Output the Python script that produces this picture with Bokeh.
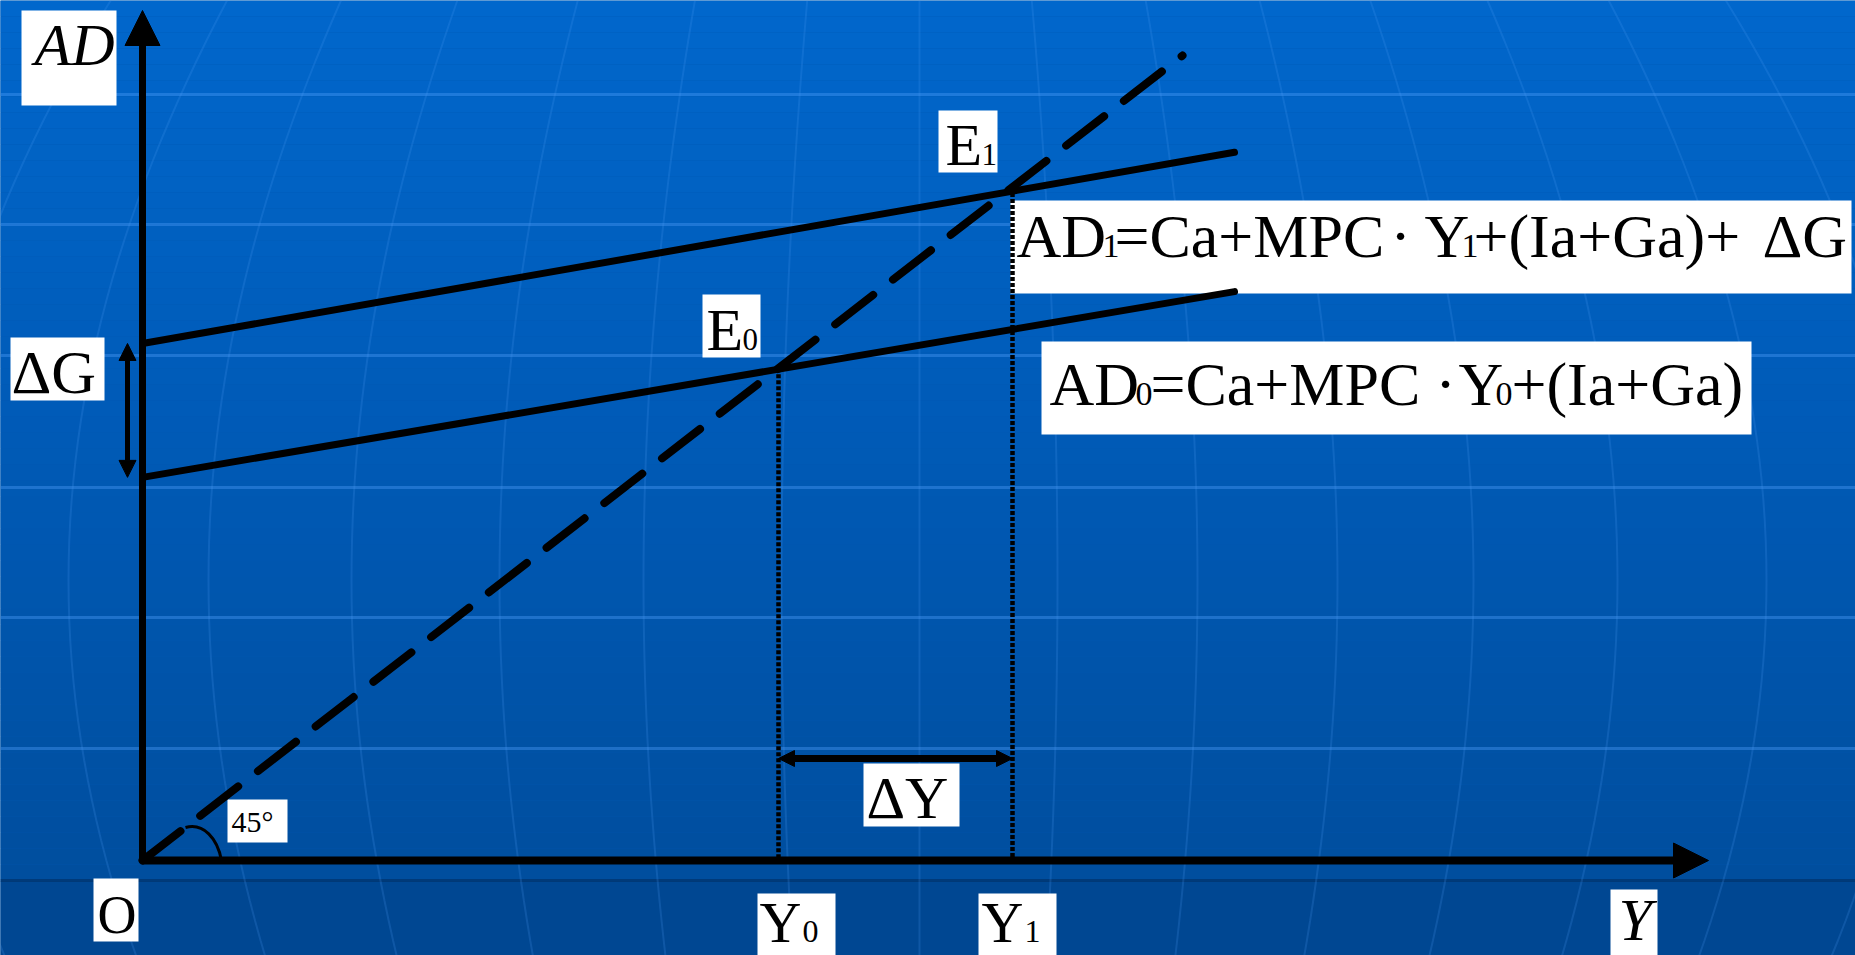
import math
from bokeh.plotting import figure
from bokeh.models import Range1d, Arrow, NormalHead
from bokeh.core.properties import value
from bokeh.embed import file_html
from bokeh.resources import INLINE

# ---------------- data (model units) ----------------
ad_x = [0.0, 10.92]            # horizontal span of the two AD schedules
ad0_y = [4.95, 7.35]           # AD0 = Ca + MPC*Y + (Ia+Ga)
ad1_y = [6.68, 9.15]           # AD1 = AD0 + dG
line45_x = [0.0, 10.4]         # 45-degree line Y = AD
line45_y = [0.0, 10.4]
eq_income = [6.36, 8.70]       # Y0, Y1 (equilibria E0, E1)

# ---------------- layout: reference pixels -> model units ----------------
W, H = 1855, 955
OX, OY = 142.0, 860.0          # origin O in reference pixels
SX, SY = 100.0, 77.4           # pixels per model unit


def X(px):
    return (px - OX) / SX


def Y(py):
    return (OY - py) / SY


p = figure(width=W, height=H, x_range=Range1d(X(0), X(W)), y_range=Range1d(Y(H), Y(0)),
           x_axis_location=None, y_axis_location=None, toolbar_location=None,
           output_backend="svg", min_border=0, outline_line_color=None,
           background_fill_color="#0058b0", border_fill_color="#0058b0")
p.grid.visible = False

# ---------------- background (template gradient + globe grid) ----------------
stops = [(0, (1, 103, 204)), (440, (0, 90, 182)), (878, (0, 78, 158)), (879, (0, 72, 148)), (960, (0, 70, 144))]


def col_at(py):
    for (a, ca), (b, cb) in zip(stops[:-1], stops[1:]):
        if a <= py <= b:
            t = 0 if b == a else (py - a) / (b - a)
            c = [round(ca[i] + (cb[i] - ca[i]) * t) for i in range(3)]
            return "#%02x%02x%02x" % tuple(c)
    return "#%02x%02x%02x" % stops[-1][1]


edges = list(range(0, 880, 16)) + [880, 960]
lefts, rights, tops, bottoms, cols = [], [], [], [], []
for a, b in zip(edges[:-1], edges[1:]):
    lefts.append(X(-5)); rights.append(X(1865)); tops.append(Y(a)); bottoms.append(Y(b))
    cols.append(col_at((a + b) / 2))
p.quad(left=lefts, right=rights, top=tops, bottom=bottoms, fill_color=cols, line_color=None)

for gy in [94, 224, 355, 487, 617, 748]:
    p.line([X(0), X(1860)], [Y(gy), Y(gy)], line_color="#4a9cf7", line_alpha=0.4, line_width=3)
p.line([X(0), X(1860)], [Y(880), Y(880)], line_color="#003670", line_alpha=0.8, line_width=3)

for xe in [-75, 68, 208, 351, 499, 643, 781, 919, 1057, 1197, 1337, 1473, 1617, 1766, 1910]:
    ys = list(range(0, 961, 20))
    xs = [919 + (xe - 919) * math.cos((yy - 580) / 935.0) for yy in ys]
    p.line([X(v) for v in xs], [Y(v) for v in ys], line_color="#4a9cf7", line_alpha=0.2, line_width=2)

# ---------------- white label boxes ----------------
boxes = [(21, 116, 10, 105), (10, 104, 337, 400), (938, 997, 110, 172), (702, 760, 294, 357),
         (1010, 1851, 200, 293), (1041, 1751, 341, 434), (863, 959, 763, 826), (227, 287, 799, 842),
         (93, 138, 878, 941), (757, 835, 893, 960), (978, 1056, 893, 960), (1610, 1657, 889, 960)]
p.quad(left=[X(b[0]) for b in boxes], right=[X(b[1]) for b in boxes],
       top=[Y(b[2]) for b in boxes], bottom=[Y(b[3]) for b in boxes],
       fill_color="white", line_color=None)

# ---------------- diagram ----------------
# 45 degree line
p.line(line45_x, line45_y, line_color="black", line_width=8, line_dash="48 25", line_cap="round")
# AD schedules
p.line(ad_x, ad0_y, line_color="black", line_width=7, line_cap="round")
p.line(ad_x, ad1_y, line_color="black", line_width=7, line_cap="round")
# dotted drop lines from equilibria
p.segment(x0=eq_income, y0=eq_income, x1=eq_income, y1=[0, 0], line_color="black",
          line_width=4.5, line_dash="4 2")
# 45 degree angle mark
p.bezier(x0=[X(185)], y0=[Y(827)], x1=[X(221)], y1=[Y(860)], cx0=[X(203)], cy0=[Y(822)],
         cx1=[X(217)], cy1=[Y(838)], line_color="black", line_width=3)

# axes with arrows
p.add_layout(Arrow(end=NormalHead(size=35, fill_color="black", line_color="black", line_width=1),
                   x_start=0, y_start=0, x_end=0, y_end=Y(10), line_color="black", line_width=7))
p.add_layout(Arrow(end=NormalHead(size=35, fill_color="black", line_color="black", line_width=1),
                   x_start=0, y_start=0, x_end=X(1708), y_end=0, line_color="black", line_width=8))
# dG arrow between intercepts
p.add_layout(Arrow(start=NormalHead(size=17, fill_color="black", line_color="black", line_width=1),
                   end=NormalHead(size=17, fill_color="black", line_color="black", line_width=1),
                   x_start=X(127), y_start=ad0_y[0], x_end=X(127), y_end=ad1_y[0],
                   line_color="black", line_width=5))
# dY arrow between incomes
p.add_layout(Arrow(start=NormalHead(size=16, fill_color="black", line_color="black", line_width=1),
                   end=NormalHead(size=16, fill_color="black", line_color="black", line_width=1),
                   x_start=eq_income[0], y_start=Y(758), x_end=eq_income[1], y_end=Y(758),
                   line_color="black", line_width=7))

# ---------------- texts ----------------
FONT = value("Liberation Serif")


def txt(px, base, s, size, italic=False, align="left"):
    # base = baseline in reference pixels; anchor at the middle of the em box
    p.text(x=[X(px)], y=[Y(base - 0.34 * size)], text=[s], text_font=FONT, text_font_size=f"{size}px",
           text_font_style="italic" if italic else "normal", text_color="black",
           text_baseline="middle", text_align=align)


BIG, SUB = 62, 34
txt(34, 65, "AD", 60, italic=True)
txt(11, 393, "ΔG", BIG)
txt(945, 165, "E", 60); txt(981, 165, "1", 31)
txt(706, 350, "E", 60); txt(742, 350, "0", 31)

# AD1 equation
txt(1016, 257, "AD", BIG); txt(1102, 257, "1", SUB)
txt(1114, 257, "=Ca+MPC", BIG); txt(1400, 257, "·", BIG, align="center")
txt(1424, 257, "Y", BIG); txt(1461, 257, "1", SUB)
txt(1473, 257, "+(Ia+Ga)+", BIG); txt(1762, 257, "ΔG", BIG)
# AD0 equation
txt(1049, 405, "AD", BIG); txt(1135, 405, "0", SUB)
txt(1150, 405, "=Ca+MPC", BIG); txt(1445, 405, "·", BIG, align="center")
txt(1458, 405, "Y", BIG); txt(1495, 405, "0", SUB)
txt(1511, 405, "+(Ia+Ga)", BIG)

txt(866, 818, "ΔY", 60)
txt(231, 831, "45°", 30)
txt(97, 933, "O", 54)
txt(759, 942, "Y", 58); txt(802, 942, "0", 32)
txt(981, 942, "Y", 58); txt(1024, 942, "1", 32)
txt(1618, 940, "Y", 60, italic=True)

open("out.html", "w").write(file_html(p, INLINE))
